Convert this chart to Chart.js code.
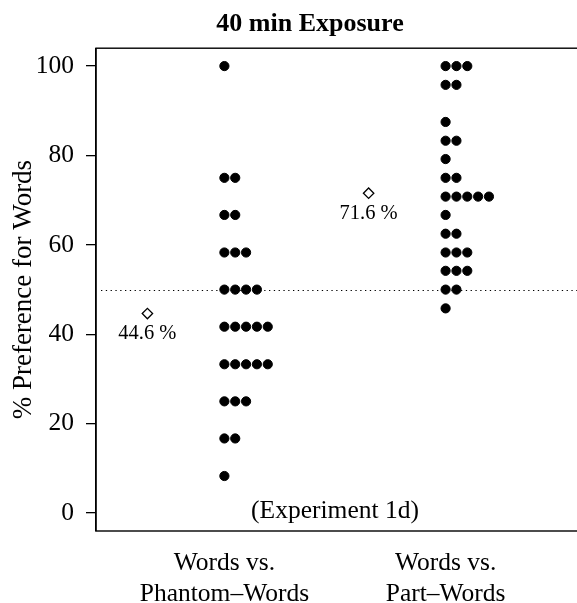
<!DOCTYPE html>
<html>
<head>
<meta charset="utf-8">
<script src="https://cdn.jsdelivr.net/npm/chart.js@4.4.1/dist/chart.umd.min.js"></script>
<style>
  html, body { margin: 0; padding: 0; background: #fff; overflow: hidden; width: 577px; height: 603px; }
  #wrap { width: 620px; height: 603px; }
</style>
</head>
<body>
<div id="wrap"><canvas id="c" width="620" height="603"></canvas></div>
<script>
// ---- data ----
const categories = [['Words vs.', 'Phantom–Words'], ['Words vs.', 'Part–Words']];
const phantomScores = [100, 75, 75, 66.7, 66.7, 58.3, 58.3, 58.3, 50, 50, 50, 50,
  41.7, 41.7, 41.7, 41.7, 41.7, 33.3, 33.3, 33.3, 33.3, 33.3, 25, 25, 25, 16.7, 16.7, 8.3];
const partScores = [100, 100, 100, 95.8, 95.8, 87.5, 83.3, 83.3, 79.2, 75, 75,
  70.8, 70.8, 70.8, 70.8, 70.8, 66.7, 62.5, 62.5, 58.3, 58.3, 58.3, 54.2, 54.2, 54.2, 50, 50, 45.8];
const yTicks = [0, 20, 40, 60, 80, 100];
const chanceLevel = 50;
const titleText = '40 min Exposure';
const yLabel = '% Preference for Words';
const noteText = '(Experiment 1d)';

// ---- helpers ----
const FONT = "'Liberation Serif', 'Times New Roman', serif";
const groups = [phantomScores, partScores];
const STACK_STEP = 0.049;   // horizontal spacing of stacked equal values (x units)
const MEAN_SHIFT = -0.348;  // mean marker placed left of the strip

function stackPoints(values, gx) {
  const seen = {};
  return values.map(v => {
    const k = seen[v] || 0;
    seen[v] = k + 1;
    return { x: gx + k * STACK_STEP, y: v };
  });
}
const mean = a => a.reduce((s, v) => s + v, 0) / a.length;
const means = groups.map(mean);

const dotData = [];
groups.forEach((g, i) => dotData.push(...stackPoints(g, i + 1)));
const meanData = means.map((m, i) => ({ x: i + 1 + MEAN_SHIFT, y: m }));

const decor = {
  id: 'decor',
  beforeDatasetsDraw(chart) {
    const { ctx, chartArea: a, scales: { y } } = chart;
    const py = Math.round(y.getPixelForValue(chanceLevel)) + 0.5;
    ctx.save();
    ctx.strokeStyle = '#000';
    ctx.lineWidth = 1.2;
    ctx.setLineDash([1.3, 3.5]);
    ctx.beginPath();
    ctx.moveTo(a.left + 5, py);
    ctx.lineTo(a.right, py);
    ctx.stroke();
    ctx.restore();
  },
  afterDatasetsDraw(chart) {
    const { ctx, scales: { x, y } } = chart;
    ctx.save();
    ctx.fillStyle = '#000';
    ctx.textAlign = 'center';
    ctx.textBaseline = 'middle';
    ctx.font = '20.5px ' + FONT;
    meanData.forEach(p => {
      ctx.fillText(p.y.toFixed(1) + ' %', x.getPixelForValue(p.x), y.getPixelForValue(p.y) + 20);
    });
    ctx.font = '25.5px ' + FONT;
    ctx.fillText(noteText, x.getPixelForValue(1.5), y.getPixelForValue(0) - 2);
    ctx.restore();
  },
  afterDraw(chart) {
    const { ctx, chartArea: a } = chart;
    ctx.save();
    ctx.strokeStyle = '#000';
    ctx.lineWidth = 1.4;
    ctx.strokeRect(a.left, a.top, a.right - a.left, a.bottom - a.top);
    ctx.restore();
  }
};

new Chart(document.getElementById('c'), {
  type: 'scatter',
  data: {
    datasets: [
      {
        data: dotData,
        pointStyle: 'circle',
        pointRadius: 4.6,
        pointHoverRadius: 4.6,
        backgroundColor: '#000',
        borderColor: '#000',
        borderWidth: 1
      },
      {
        data: meanData,
        pointStyle: 'rectRot',
        pointRadius: 5.2,
        pointHoverRadius: 5.2,
        backgroundColor: '#fff',
        borderColor: '#000',
        borderWidth: 1.3
      }
    ]
  },
  options: {
    responsive: false,
    animation: false,
    events: [],
    layout: { padding: 0 },
    plugins: {
      legend: { display: false },
      tooltip: { enabled: false },
      title: {
        display: true,
        text: titleText,
        color: '#000',
        font: { family: FONT, size: 26, weight: 'bold' },
        padding: { top: 9, bottom: 8 }
      }
    },
    scales: {
      x: {
        type: 'linear',
        min: 0.4196,
        max: 2.759,
        grid: { display: false },
        border: { display: false },
        afterBuildTicks(s) { s.ticks = categories.map((c, i) => ({ value: i + 1 })); },
        ticks: {
          color: '#000',
          font: { family: FONT, size: 25.5, lineHeight: 1.22 },
          padding: 9,
          maxRotation: 0,
          autoSkip: false,
          callback: (v) => categories[Math.round(v) - 1]
        },
        afterFit(s) { s.height = 72; }
      },
      y: {
        min: -4,
        max: 104,
        afterBuildTicks(s) { s.ticks = yTicks.map(v => ({ value: v })); },
        grid: { display: true, drawOnChartArea: false, drawTicks: true, tickLength: 10, color: '#000', lineWidth: 1.3 },
        border: { display: true, color: '#000', width: 1.4 },
        ticks: {
          color: '#000',
          font: { family: FONT, size: 25.5 },
          padding: 12
        },
        title: {
          display: true,
          text: yLabel,
          color: '#000',
          font: { family: FONT, size: 27 },
          padding: { top: 7.8, bottom: 0 }
        },
        afterFit(s) { s.width = 96; }
      }
    }
  },
  plugins: [decor]
});
</script>
</body>
</html>
